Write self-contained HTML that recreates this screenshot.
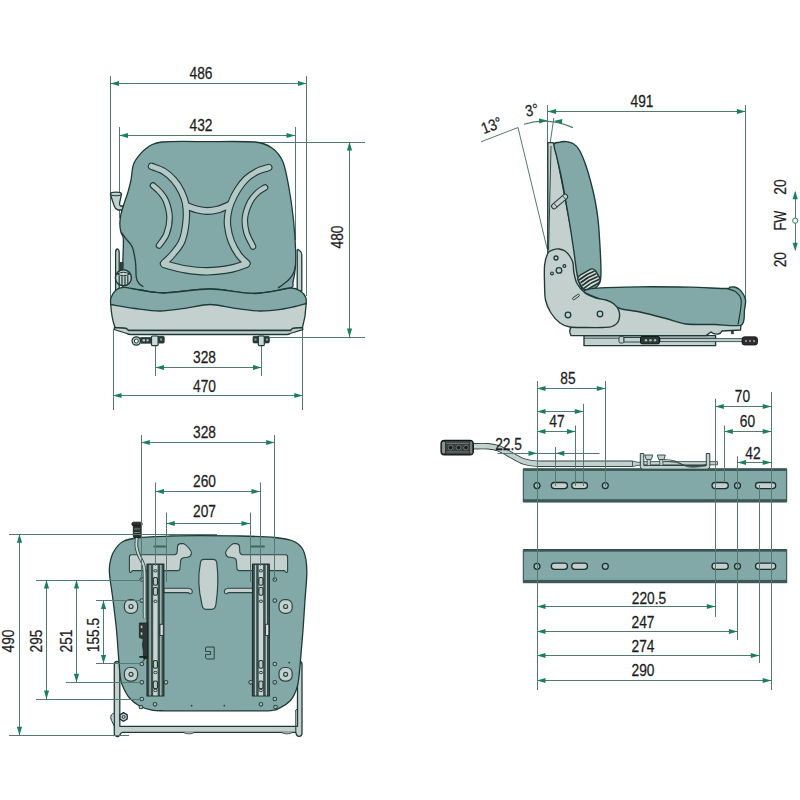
<!DOCTYPE html>
<html><head><meta charset="utf-8"><title>Seat dimensions</title>
<style>
html,body{margin:0;padding:0;background:#fff;}
body{width:800px;height:800px;overflow:hidden;font-family:"Liberation Sans",sans-serif;}
svg{display:block;font-family:"Liberation Sans",sans-serif;}
</style></head><body>
<svg width="800" height="800" viewBox="0 0 800 800" stroke-linejoin="round" stroke-linecap="butt">
<rect width="800" height="800" fill="#ffffff"/>
<line x1="110.5" y1="76" x2="110.5" y2="299" stroke="#54796e" stroke-width="1"/>
<line x1="306.5" y1="76" x2="306.5" y2="296" stroke="#54796e" stroke-width="1"/>
<line x1="119.5" y1="127" x2="119.5" y2="218" stroke="#54796e" stroke-width="1"/>
<line x1="295.5" y1="127" x2="295.5" y2="240" stroke="#54796e" stroke-width="1"/>
<line x1="250" y1="142.5" x2="365" y2="142.5" stroke="#54796e" stroke-width="1"/>
<line x1="269.5" y1="337.5" x2="365" y2="337.5" stroke="#54796e" stroke-width="1"/>
<line x1="113.5" y1="330" x2="113.5" y2="410" stroke="#54796e" stroke-width="1"/>
<line x1="302.5" y1="330" x2="302.5" y2="410" stroke="#54796e" stroke-width="1"/>
<line x1="155.5" y1="345" x2="155.5" y2="376" stroke="#54796e" stroke-width="1"/>
<line x1="261.5" y1="345" x2="261.5" y2="376" stroke="#54796e" stroke-width="1"/>
<path d="M115.6 291V252.5Q115.6 249 117.6 249Q119.2 249.5 119.2 253V291Z" fill="#c4d0ce" stroke="#1d3a36" stroke-width="1.3" />
<path d="M297.2 291V250.5Q297.4 248.8 299 250Q301.8 252 301.8 255V291Z" fill="#c4d0ce" stroke="#1d3a36" stroke-width="1.3" />
<path d="M110.4 194 Q110.6 192.2 116 192.2 Q121.4 192.2 121.5 194 L119.6 203 Q119.2 205 120.5 206 H123.5 V210 H118 Q115.5 209.5 114.5 206.5 Q112 200 110.4 194Z" fill="#c4d0ce" stroke="#1d3a36" stroke-width="1.3" />
<path d="M110.4 194 Q110.6 195.8 116 195.8 Q121.4 195.8 121.5 194" fill="none" stroke="#1d3a36" stroke-width="1" />
<path d="M162.00 142.00 C170.68 141.03 194.98 141.60 208.00 141.60 C221.02 141.60 246.04 141.10 255.00 142.00 C263.96 142.90 268.08 145.20 272.00 148.00 C275.92 150.80 280.62 156.40 283.00 162.00 C285.38 167.60 287.53 179.88 289.00 188.00 C290.47 196.12 292.58 211.32 293.50 220.00 C294.42 228.68 295.35 243.28 295.60 250.00 C295.85 256.72 295.66 263.52 295.30 268.00 C294.94 272.48 293.74 279.20 293.00 282.00 C292.26 284.80 295.32 286.39 290.00 288.00 C284.68 289.61 266.20 293.36 255.00 293.50 C243.80 293.64 222.74 289.07 210.00 289.00 C197.26 288.93 173.80 292.86 164.00 293.00 C154.20 293.14 145.71 290.70 140.00 290.00 C134.29 289.30 125.61 291.64 123.20 288.00 C120.79 284.36 122.77 270.86 122.80 264.00 C122.83 257.14 123.65 243.41 123.40 239.00 C123.15 234.59 121.50 234.67 121.00 232.50 C120.50 230.33 119.80 226.09 119.80 223.50 C119.80 220.91 120.44 216.66 121.00 214.00 C121.56 211.34 122.82 207.58 123.80 204.50 C124.78 201.42 126.99 195.43 128.00 192.00 C129.01 188.57 130.16 184.06 131.00 180.00 C131.84 175.94 131.90 167.41 134.00 163.00 C136.10 158.59 142.08 151.44 146.00 148.50 C149.92 145.56 153.32 142.97 162.00 142.00Z" fill="#82a9a7" stroke="#1d3a36" stroke-width="1.3" />
<path d="M121.30 232.50 C122.17 233.63 124.63 236.80 126.50 239.30 C128.37 241.80 131.00 243.63 132.50 247.50 C134.00 251.37 134.87 257.50 135.50 262.50 C136.13 267.50 135.72 274.00 136.30 277.50 C136.88 281.00 137.80 281.95 139.00 283.50 C140.20 285.05 142.75 286.25 143.50 286.80" fill="none" stroke="#1d3a36" stroke-width="1.3" />
<path d="M295.70 265.00 C295.33 266.33 294.62 270.58 293.50 273.00 C292.38 275.42 290.75 277.58 289.00 279.50 C287.25 281.42 284.83 283.08 283.00 284.50 C281.17 285.92 278.83 287.42 278.00 288.00" fill="none" stroke="#1d3a36" stroke-width="1.3" />
<path d="M151.50 166.30 C153.55 167.13 160.08 169.02 163.80 171.30 C167.52 173.58 170.88 176.67 173.80 180.00 C176.72 183.33 179.32 187.30 181.30 191.30 C183.28 195.30 184.92 198.88 185.70 204.00 C186.48 209.12 186.62 215.83 186.00 222.00 C185.38 228.17 184.17 235.67 182.00 241.00 C179.83 246.33 176.08 250.25 173.00 254.00 C169.92 257.75 165.08 261.92 163.50 263.50" fill="none" stroke="#1d3a36" stroke-width="7.4" stroke-linecap="round" stroke-linejoin="round"/>
<path d="M268.80 167.50 C266.92 168.13 261.25 169.42 257.50 171.30 C253.75 173.18 249.63 175.68 246.30 178.80 C242.97 181.92 240.05 185.97 237.50 190.00 C234.95 194.03 232.58 199.00 231.00 203.00 C229.42 207.00 228.57 210.17 228.00 214.00 C227.43 217.83 227.05 221.45 227.60 226.00 C228.15 230.55 229.43 236.47 231.30 241.30 C233.17 246.13 236.18 251.33 238.80 255.00 C241.42 258.67 245.63 261.92 247.00 263.30" fill="none" stroke="#1d3a36" stroke-width="7.4" stroke-linecap="round" stroke-linejoin="round"/>
<path d="M164.50 264.20 C167.92 265.05 177.83 268.12 185.00 269.30 C192.17 270.48 199.67 271.43 207.50 271.30 C215.33 271.17 225.58 269.72 232.00 268.50 C238.42 267.28 243.67 264.75 246.00 264.00" fill="none" stroke="#1d3a36" stroke-width="8.4" stroke-linecap="round" stroke-linejoin="round"/>
<path d="M186.50 206.00 C188.25 206.58 193.50 208.67 197.00 209.50 C200.50 210.33 204.00 211.00 207.50 211.00 C211.00 211.00 214.33 210.50 218.00 209.50 C221.67 208.50 227.58 205.75 229.50 205.00" fill="none" stroke="#1d3a36" stroke-width="7.8" stroke-linecap="round" stroke-linejoin="round"/>
<path d="M153.00 185.50 C154.17 186.58 157.83 189.42 160.00 192.00 C162.17 194.58 164.40 196.75 166.00 201.00 C167.60 205.25 169.52 212.00 169.60 217.50 C169.68 223.00 168.27 229.33 166.50 234.00 C164.73 238.67 160.25 243.58 159.00 245.50" fill="none" stroke="#1d3a36" stroke-width="6.6000000000000005" stroke-linecap="round" stroke-linejoin="round"/>
<path d="M265.00 187.50 C263.67 188.42 259.50 190.58 257.00 193.00 C254.50 195.42 252.00 197.92 250.00 202.00 C248.00 206.08 245.58 212.42 245.00 217.50 C244.42 222.58 245.17 227.67 246.50 232.50 C247.83 237.33 251.92 244.17 253.00 246.50" fill="none" stroke="#1d3a36" stroke-width="6.6000000000000005" stroke-linecap="round" stroke-linejoin="round"/>
<path d="M151.50 166.30 C153.55 167.13 160.08 169.02 163.80 171.30 C167.52 173.58 170.88 176.67 173.80 180.00 C176.72 183.33 179.32 187.30 181.30 191.30 C183.28 195.30 184.92 198.88 185.70 204.00 C186.48 209.12 186.62 215.83 186.00 222.00 C185.38 228.17 184.17 235.67 182.00 241.00 C179.83 246.33 176.08 250.25 173.00 254.00 C169.92 257.75 165.08 261.92 163.50 263.50" fill="none" stroke="#b7c9c6" stroke-width="5.2" stroke-linecap="round" stroke-linejoin="round"/>
<path d="M268.80 167.50 C266.92 168.13 261.25 169.42 257.50 171.30 C253.75 173.18 249.63 175.68 246.30 178.80 C242.97 181.92 240.05 185.97 237.50 190.00 C234.95 194.03 232.58 199.00 231.00 203.00 C229.42 207.00 228.57 210.17 228.00 214.00 C227.43 217.83 227.05 221.45 227.60 226.00 C228.15 230.55 229.43 236.47 231.30 241.30 C233.17 246.13 236.18 251.33 238.80 255.00 C241.42 258.67 245.63 261.92 247.00 263.30" fill="none" stroke="#b7c9c6" stroke-width="5.2" stroke-linecap="round" stroke-linejoin="round"/>
<path d="M164.50 264.20 C167.92 265.05 177.83 268.12 185.00 269.30 C192.17 270.48 199.67 271.43 207.50 271.30 C215.33 271.17 225.58 269.72 232.00 268.50 C238.42 267.28 243.67 264.75 246.00 264.00" fill="none" stroke="#b7c9c6" stroke-width="6.2" stroke-linecap="round" stroke-linejoin="round"/>
<path d="M186.50 206.00 C188.25 206.58 193.50 208.67 197.00 209.50 C200.50 210.33 204.00 211.00 207.50 211.00 C211.00 211.00 214.33 210.50 218.00 209.50 C221.67 208.50 227.58 205.75 229.50 205.00" fill="none" stroke="#b7c9c6" stroke-width="5.6" stroke-linecap="round" stroke-linejoin="round"/>
<path d="M153.00 185.50 C154.17 186.58 157.83 189.42 160.00 192.00 C162.17 194.58 164.40 196.75 166.00 201.00 C167.60 205.25 169.52 212.00 169.60 217.50 C169.68 223.00 168.27 229.33 166.50 234.00 C164.73 238.67 160.25 243.58 159.00 245.50" fill="none" stroke="#b7c9c6" stroke-width="4.4" stroke-linecap="round" stroke-linejoin="round"/>
<path d="M265.00 187.50 C263.67 188.42 259.50 190.58 257.00 193.00 C254.50 195.42 252.00 197.92 250.00 202.00 C248.00 206.08 245.58 212.42 245.00 217.50 C244.42 222.58 245.17 227.67 246.50 232.50 C247.83 237.33 251.92 244.17 253.00 246.50" fill="none" stroke="#b7c9c6" stroke-width="4.4" stroke-linecap="round" stroke-linejoin="round"/>
<rect x="120" y="262.5" width="3" height="9" rx="0" fill="#33423f" stroke="#1d3a36" stroke-width="0.8" />
<circle cx="123.4" cy="277.8" r="8" fill="#c4d0ce" stroke="#1d3a36" stroke-width="1.5"/>
<path d="M117.3 274 Q123.5 270.5 129.7 274 Q123.5 277.5 117.3 274Z" fill="#c4d0ce" stroke="#1d3a36" stroke-width="1" />
<line x1="119.2" y1="275.5" x2="119.2" y2="284" stroke="#1d3a36" stroke-width="1.2"/>
<line x1="122.0" y1="276.3" x2="122.0" y2="285.3" stroke="#1d3a36" stroke-width="1.2"/>
<line x1="125.0" y1="276.3" x2="125.0" y2="285.3" stroke="#1d3a36" stroke-width="1.2"/>
<line x1="127.8" y1="275.5" x2="127.8" y2="284" stroke="#1d3a36" stroke-width="1.2"/>
<path d="M110.7 304 Q111.5 318 115 327.5 L126 328.3 L128.5 330.5 L290.5 330.5 L292.8 328.3 L302.5 327.5 Q305.8 316 306.2 303 Z" fill="#c4d0ce" stroke="#1d3a36" stroke-width="1.3" />
<path d="M114.5 327.5 L114 329.5 L127 333.5 Q128 334.5 131 334.5 L287 334.5 Q289 334.5 290 333.5 L302.8 329.6 L302.5 327.5 L292.8 328.3 L290.5 330.5 L128.5 330.5 L126 328.3Z" fill="#c4d0ce" stroke="#1d3a36" stroke-width="1.3" />
<path d="M110.70 304.50 C114.75 305.17 126.78 307.42 135.00 308.50 C143.22 309.58 151.67 311.03 160.00 311.00 C168.33 310.97 176.67 309.38 185.00 308.30 C193.33 307.22 201.67 304.50 210.00 304.50 C218.33 304.50 226.67 307.22 235.00 308.30 C243.33 309.38 252.00 310.88 260.00 311.00 C268.00 311.12 277.17 309.75 283.00 309.00 C288.83 308.25 291.13 307.42 295.00 306.50 C298.87 305.58 304.33 304.00 306.20 303.50 C306.14 302.66 306.53 299.18 305.80 297.50 C305.07 295.82 303.14 292.83 301.00 291.50 C298.86 290.17 296.94 287.72 290.50 288.00 C284.06 288.28 266.27 293.36 255.00 293.50 C243.73 293.64 222.74 289.07 210.00 289.00 C197.26 288.93 173.80 292.86 164.00 293.00 C154.20 293.14 145.67 290.80 140.00 290.00 C134.33 289.20 126.86 287.30 123.50 287.30 C120.14 287.30 117.76 288.50 116.00 290.00 C114.24 291.50 111.64 295.97 110.90 298.00 C110.16 300.03 110.73 303.59 110.70 304.50Z" fill="#82a9a7" stroke="#1d3a36" stroke-width="1.3" />
<path d="M131.00 288.50 C134.17 289.05 144.17 291.05 150.00 291.80 C155.83 292.55 163.33 292.80 166.00 293.00" fill="none" stroke="#1d3a36" stroke-width="1" />
<path d="M290.00 288.00 C287.00 288.58 278.17 290.58 272.00 291.50 C265.83 292.42 256.17 293.17 253.00 293.50" fill="none" stroke="#1d3a36" stroke-width="1" />
<rect x="140" y="337.6" width="11.5" height="5.6" rx="1" fill="#2a3b38" stroke="#1d3a36" stroke-width="0.8" />
<rect x="142.5" y="339.3" width="2.5" height="2" rx="0" fill="#c4d0ce" stroke="none" stroke-width="0" />
<rect x="146.5" y="339.3" width="2" height="2" rx="0" fill="#c4d0ce" stroke="none" stroke-width="0" />
<rect x="158" y="336.3" width="6.2" height="6.8" rx="1" fill="#2a3b38" stroke="#1d3a36" stroke-width="0.8" />
<rect x="160" y="338.5" width="2" height="2" rx="0" fill="#8fa6a3" stroke="none" stroke-width="0" />
<rect x="151.5" y="336" width="6.6" height="9.6" rx="1" fill="#cfd9d7" stroke="#1d3a36" stroke-width="1.2" />
<circle cx="136.3" cy="341" r="4.2" fill="#c4d0ce" stroke="#1d3a36" stroke-width="1.3"/>
<circle cx="136.3" cy="341" r="2" fill="#fff" stroke="#1d3a36" stroke-width="1"/>
<rect x="253" y="336.3" width="16.3" height="6.6" rx="1" fill="#2a3b38" stroke="#1d3a36" stroke-width="0.8" />
<rect x="254.5" y="338.5" width="2" height="2" rx="0" fill="#8fa6a3" stroke="none" stroke-width="0" />
<rect x="266" y="338.5" width="2" height="2" rx="0" fill="#8fa6a3" stroke="none" stroke-width="0" />
<rect x="258.3" y="336" width="6" height="9.6" rx="1" fill="#cfd9d7" stroke="#1d3a36" stroke-width="1.2" />
<line x1="110.5" y1="83.5" x2="306.5" y2="83.5" stroke="#54796e" stroke-width="1"/>
<path d="M110.50 83.50L119.00 80.90L119.00 86.10Z" fill="#1a7f5e"/>
<path d="M306.50 83.50L298.00 86.10L298.00 80.90Z" fill="#1a7f5e"/>
<text transform="translate(201,79) rotate(0) scale(0.86,1)" text-anchor="middle" font-size="16" fill="#1c1c1c" stroke="#1c1c1c" stroke-width="0.25">486</text>
<line x1="119.5" y1="135.5" x2="295" y2="135.5" stroke="#54796e" stroke-width="1"/>
<path d="M119.50 135.50L128.00 132.90L128.00 138.10Z" fill="#1a7f5e"/>
<path d="M295.00 135.50L286.50 138.10L286.50 132.90Z" fill="#1a7f5e"/>
<text transform="translate(201,130.5) rotate(0) scale(0.86,1)" text-anchor="middle" font-size="16" fill="#1c1c1c" stroke="#1c1c1c" stroke-width="0.25">432</text>
<line x1="349.5" y1="142" x2="349.5" y2="337" stroke="#54796e" stroke-width="1"/>
<path d="M349.50 142.00L352.10 150.50L346.90 150.50Z" fill="#1a7f5e"/>
<path d="M349.50 337.00L346.90 328.50L352.10 328.50Z" fill="#1a7f5e"/>
<text transform="translate(343,237) rotate(-90) scale(0.86,1)" text-anchor="middle" font-size="16" fill="#1c1c1c" stroke="#1c1c1c" stroke-width="0.25">480</text>
<line x1="155.5" y1="367.5" x2="261.5" y2="367.5" stroke="#54796e" stroke-width="1"/>
<path d="M155.50 367.50L164.00 364.90L164.00 370.10Z" fill="#1a7f5e"/>
<path d="M261.50 367.50L253.00 370.10L253.00 364.90Z" fill="#1a7f5e"/>
<text transform="translate(204.5,362.5) rotate(0) scale(0.86,1)" text-anchor="middle" font-size="16" fill="#1c1c1c" stroke="#1c1c1c" stroke-width="0.25">328</text>
<line x1="113" y1="395.5" x2="302.8" y2="395.5" stroke="#54796e" stroke-width="1"/>
<path d="M113.00 395.50L121.50 392.90L121.50 398.10Z" fill="#1a7f5e"/>
<path d="M302.80 395.50L294.30 398.10L294.30 392.90Z" fill="#1a7f5e"/>
<text transform="translate(204.5,391.5) rotate(0) scale(0.86,1)" text-anchor="middle" font-size="16" fill="#1c1c1c" stroke="#1c1c1c" stroke-width="0.25">470</text>
<line x1="547.5" y1="105" x2="547.5" y2="249" stroke="#54796e" stroke-width="1"/>
<line x1="745.5" y1="105" x2="745.5" y2="300" stroke="#54796e" stroke-width="1"/>
<line x1="553.8" y1="118" x2="550.2" y2="143" stroke="#54796e" stroke-width="1"/>
<line x1="481" y1="141.8" x2="518" y2="127.5" stroke="#54796e" stroke-width="1"/>
<line x1="518" y1="127.5" x2="547.2" y2="249" stroke="#54796e" stroke-width="1"/>
<path d="M524 124.3 Q548 116.5 573 127.6" fill="none" stroke="#54796e" stroke-width="1.2" />
<path d="M547.60 120.60L539.23 123.62L538.97 118.42Z" fill="#1a7f5e"/>
<path d="M553.60 120.90L562.31 118.98L561.89 124.18Z" fill="#1a7f5e"/>
<rect x="584" y="335.6" width="131.6" height="10" rx="0" fill="#c4d0ce" stroke="#1d3a36" stroke-width="1.35" />
<line x1="584" y1="338.2" x2="715.6" y2="338.2" stroke="#1d3a36" stroke-width="0.8"/>
<path d="M571 327.5 Q568.5 331 571 335.6 L706 335.6 L711 332 Q714 334.5 718 334 Q721 333.5 722 331 L740.5 330 L741 325 L700 318 L619 306 L600 300 L575 320 Z" fill="#c4d0ce" stroke="#1d3a36" stroke-width="1.35" />
<rect x="731.2" y="330.5" width="2.4" height="3.5" rx="0" fill="#1d3a36" stroke="#1d3a36" stroke-width="0.3" />
<path d="M547.8 142.6 L553 142.6 L555 146 L575 250 L582 290 L548 290 L547.8 250 Z" fill="#c4d0ce" stroke="#1d3a36" stroke-width="1.35" />
<line x1="551" y1="146" x2="548.6" y2="250" stroke="#1d3a36" stroke-width="0.9"/>
<path d="M554.00 144.50 C554.33 141.88 557.00 142.78 559.00 142.30 C561.00 141.82 563.67 141.40 566.00 141.60 C568.33 141.80 570.83 142.18 573.00 143.50 C575.17 144.82 577.00 146.25 579.00 149.50 C581.00 152.75 583.08 157.75 585.00 163.00 C586.92 168.25 588.83 174.83 590.50 181.00 C592.17 187.17 593.72 193.33 595.00 200.00 C596.28 206.67 597.33 212.67 598.20 221.00 C599.07 229.33 599.73 241.50 600.20 250.00 C600.67 258.50 601.03 266.67 601.00 272.00 C600.97 277.33 600.83 279.42 600.00 282.00 C599.17 284.58 598.00 286.00 596.00 287.50 C594.00 289.00 590.50 291.08 588.00 291.00 C585.50 290.92 582.83 289.83 581.00 287.00 C579.17 284.17 578.03 278.83 577.00 274.00 C575.97 269.17 575.80 265.00 574.80 258.00 C573.80 251.00 572.38 240.83 571.00 232.00 C569.62 223.17 568.08 214.00 566.50 205.00 C564.92 196.00 563.08 185.83 561.50 178.00 C559.92 170.17 558.25 163.58 557.00 158.00 C555.75 152.42 553.67 147.12 554.00 144.50Z" fill="#82a9a7" stroke="#1d3a36" stroke-width="1.35" />
<g transform="translate(559.6,201.5) rotate(-41)"><rect x="-9.8" y="-2.5" width="19.6" height="5" rx="2.5" fill="#c4d0ce" stroke="#1d3a36" stroke-width="1"/><line x1="-5.5" y1="-2.5" x2="-5.5" y2="2.5" stroke="#1d3a36" stroke-width="0.8"/><line x1="6" y1="-2.5" x2="6" y2="2.5" stroke="#1d3a36" stroke-width="0.8"/></g>
<path d="M584.00 292.00 C582.67 290.31 586.53 288.99 594.00 288.30 C601.47 287.61 627.20 286.95 640.00 286.80 C652.80 286.65 678.53 286.97 690.00 287.20 C701.47 287.43 720.67 288.50 726.00 288.50 C731.33 288.50 728.87 287.40 730.00 287.20 C731.13 287.00 733.23 286.69 734.50 287.00 C735.77 287.31 738.30 288.50 739.50 289.50 C740.70 290.50 742.69 293.03 743.50 294.50 C744.31 295.97 745.47 298.43 745.60 300.50 C745.73 302.57 745.05 306.73 744.50 310.00 C743.95 313.27 745.43 323.07 741.50 325.00 C737.57 326.93 722.40 324.63 715.00 324.50 C707.60 324.37 692.53 324.80 686.00 324.00 C679.47 323.20 672.13 320.10 666.00 318.50 C659.87 316.90 646.13 313.33 640.00 312.00 C633.87 310.67 624.80 309.97 620.00 308.50 C615.20 307.03 608.80 303.20 604.00 301.00 C599.20 298.80 585.33 293.69 584.00 292.00Z" fill="#82a9a7" stroke="#1d3a36" stroke-width="1.35" />
<path d="M727.00 288.60 C728.50 289.17 733.67 290.27 736.00 292.00 C738.33 293.73 740.25 296.00 741.00 299.00 C741.75 302.00 741.00 305.75 740.50 310.00 C740.00 314.25 738.42 322.08 738.00 324.50" fill="none" stroke="#1d3a36" stroke-width="1.2" />
<g transform="translate(589,279.3) rotate(-30)"><rect x="-10" y="-8" width="20" height="16" rx="4.5" fill="#d3dcda" stroke="#1d3a36" stroke-width="1.5"/><path d="M-9 -4.4 Q0 -6.0 9 -4.4" fill="none" stroke="#22302e" stroke-width="1.7"/><path d="M-9 -1.2 Q0 -2.8 9 -1.2" fill="none" stroke="#22302e" stroke-width="1.7"/><path d="M-9 2.0 Q0 0.3999999999999999 9 2.0" fill="none" stroke="#22302e" stroke-width="1.7"/><path d="M-9 5.2 Q0 3.6 9 5.2" fill="none" stroke="#22302e" stroke-width="1.7"/></g>
<path d="M548.00 253.00 C549.26 250.72 551.35 250.40 553.00 249.80 C554.65 249.20 557.20 248.82 559.00 249.00 C560.80 249.18 563.35 249.88 565.00 251.00 C566.65 252.12 568.80 254.70 570.00 256.50 C571.20 258.30 572.43 260.68 573.00 263.00 C573.57 265.32 573.20 268.93 573.80 272.00 C574.40 275.07 575.32 280.35 577.00 283.50 C578.68 286.65 582.15 290.82 585.00 293.00 C587.85 295.18 592.85 296.95 596.00 298.00 C599.15 299.05 603.30 299.10 606.00 300.00 C608.70 300.90 612.05 302.35 614.00 304.00 C615.95 305.65 618.33 308.45 619.00 311.00 C619.67 313.55 619.55 318.68 618.50 321.00 C617.45 323.32 614.33 325.52 612.00 326.50 C609.67 327.48 607.05 327.35 603.00 327.50 C598.95 327.65 589.95 327.57 585.00 327.50 C580.05 327.43 573.75 327.68 570.00 327.00 C566.25 326.32 562.85 325.10 560.00 323.00 C557.15 320.90 553.17 316.45 551.00 313.00 C548.83 309.55 546.48 304.65 545.50 300.00 C544.52 295.35 544.63 287.25 544.50 282.00 C544.37 276.75 544.08 269.35 544.60 265.00 C545.12 260.65 546.74 255.28 548.00 253.00Z" fill="#c4d0ce" stroke="#1d3a36" stroke-width="1.35" />
<circle cx="556" cy="258" r="2" fill="#c4d0ce" stroke="#1d3a36" stroke-width="1.3"/>
<circle cx="559" cy="270.4" r="2.8" fill="#c4d0ce" stroke="#1d3a36" stroke-width="1.3"/>
<circle cx="564.4" cy="266" r="1.4" fill="#c4d0ce" stroke="#1d3a36" stroke-width="1.2"/>
<circle cx="552" cy="273.4" r="1.4" fill="#c4d0ce" stroke="#1d3a36" stroke-width="1.2"/>
<circle cx="568" cy="315" r="2.8" fill="#c4d0ce" stroke="#1d3a36" stroke-width="1.3"/>
<circle cx="600" cy="314" r="2.8" fill="#c4d0ce" stroke="#1d3a36" stroke-width="1.3"/>
<rect x="-4" y="-1.1" width="8" height="2.2" rx="1.1" transform="translate(576,297) rotate(-35)" fill="#c4d0ce" stroke="#1d3a36" stroke-width="0.9"/>
<rect x="660" y="338.6" width="83" height="3" rx="0" fill="#c4d0ce" stroke="#1d3a36" stroke-width="0.8" />
<rect x="619" y="336.5" width="5" height="6.5" rx="1.5" fill="#c4d0ce" stroke="#1d3a36" stroke-width="0.9" />
<rect x="624" y="337.5" width="20" height="4.5" rx="0" fill="#c4d0ce" stroke="#1d3a36" stroke-width="0.9" />
<rect x="640.5" y="336.6" width="19" height="7.2" rx="1.5" fill="#2c3837" stroke="#141716" stroke-width="1" />
<circle cx="646" cy="340.2" r="1.3" fill="#a9b8b5" stroke="none" stroke-width="0"/>
<circle cx="650.5" cy="340.2" r="1.3" fill="#a9b8b5" stroke="none" stroke-width="0"/>
<circle cx="655" cy="340.2" r="1.3" fill="#a9b8b5" stroke="none" stroke-width="0"/>
<rect x="742" y="336.8" width="15.5" height="8.2" rx="2.5" fill="#2a2f2e" stroke="#111" stroke-width="0.8" />
<circle cx="746" cy="341" r="1" fill="#9aa" stroke="none" stroke-width="0"/>
<circle cx="750" cy="341" r="1" fill="#9aa" stroke="none" stroke-width="0"/>
<circle cx="754" cy="341" r="1" fill="#9aa" stroke="none" stroke-width="0"/>
<line x1="547.6" y1="111.5" x2="745.5" y2="111.5" stroke="#54796e" stroke-width="1"/>
<path d="M547.60 111.50L556.10 108.90L556.10 114.10Z" fill="#1a7f5e"/>
<path d="M745.50 111.50L737.00 114.10L737.00 108.90Z" fill="#1a7f5e"/>
<text transform="translate(642,106.5) rotate(0) scale(0.86,1)" text-anchor="middle" font-size="16" fill="#1c1c1c" stroke="#1c1c1c" stroke-width="0.25">491</text>
<text transform="translate(533,115.5) rotate(-12) scale(0.86,1)" text-anchor="middle" font-size="16" fill="#1c1c1c" stroke="#1c1c1c" stroke-width="0.25">3°</text>
<text transform="translate(493.5,130.5) rotate(-21) scale(0.86,1)" text-anchor="middle" font-size="16" fill="#1c1c1c" stroke="#1c1c1c" stroke-width="0.25">13°</text>
<text transform="translate(786,187) rotate(-90) scale(0.86,1)" text-anchor="middle" font-size="16" fill="#1c1c1c" stroke="#1c1c1c" stroke-width="0.25">20</text>
<text transform="translate(786,220.6) rotate(-90) scale(0.8,1)" text-anchor="middle" font-size="16" fill="#1c1c1c" stroke="#1c1c1c" stroke-width="0.25">FW</text>
<text transform="translate(786,259.7) rotate(-90) scale(0.86,1)" text-anchor="middle" font-size="16" fill="#1c1c1c" stroke="#1c1c1c" stroke-width="0.25">20</text>
<line x1="795.5" y1="192" x2="795.5" y2="250" stroke="#54796e" stroke-width="1"/>
<path d="M795.20 190.70L797.80 199.20L792.60 199.20Z" fill="#1a7f5e"/>
<path d="M795.20 251.20L792.60 242.70L797.80 242.70Z" fill="#1a7f5e"/>
<circle cx="795.2" cy="220.7" r="2.6" fill="#fff" stroke="#1a7f5e" stroke-width="1"/>
<path d="M114.3 734.5 V664.5 Q114.3 661.5 117 661.5 Q119.8 661.5 119.8 664.5 V726.3 H297.5 V664.5 Q297.5 661.5 299.8 661.5 Q302 661.5 302 664.5 V733 Q302 736.3 299 736.3 Q296.5 736.3 295.8 732.3 H122.5 Q120.8 732.5 119.8 735 Q117 738.5 114.3 734.5Z" fill="#c4d0ce" stroke="#1d3a36" stroke-width="1.3" />
<path d="M183 732.3 q6 3.2 12 0 M281 732.3 q6 3.2 12 0" fill="#c4d0ce" stroke="#1d3a36" stroke-width="0.8" />
<path d="M295.8 732.3 V710 L297.5 709" fill="none" stroke="#1d3a36" stroke-width="1" />
<path d="M200.00 535.60 C209.80 535.60 229.50 535.73 240.00 536.00 C250.50 536.27 267.58 536.80 275.00 537.50 C282.42 538.20 289.22 539.53 293.00 541.00 C296.78 542.47 300.18 545.34 302.00 548.00 C303.82 550.66 305.33 556.22 306.00 560.00 C306.67 563.78 306.94 569.40 306.80 575.00 C306.66 580.60 305.53 592.30 305.00 600.00 C304.47 607.70 303.63 621.60 303.00 630.00 C302.37 638.40 301.12 653.07 300.50 660.00 C299.88 666.93 299.17 675.37 298.60 679.50 C298.03 683.63 297.53 686.56 296.40 689.50 C295.27 692.44 292.94 697.85 290.50 700.50 C288.06 703.15 282.22 706.96 279.00 708.40 C275.78 709.84 277.16 710.46 267.50 710.80 C257.84 711.14 224.35 710.80 210.00 710.80 C195.65 710.80 173.12 710.88 165.00 710.80 C156.88 710.72 155.57 710.87 152.00 710.20 C148.43 709.53 142.65 707.71 139.50 706.00 C136.35 704.29 131.67 700.38 129.50 698.00 C127.33 695.62 125.25 691.59 124.00 689.00 C122.75 686.41 121.33 683.56 120.60 679.50 C119.87 675.44 119.37 666.93 118.80 660.00 C118.23 653.07 117.31 638.40 116.50 630.00 C115.69 621.60 113.97 607.70 113.00 600.00 C112.03 592.30 110.05 580.04 109.60 575.00 C109.15 569.96 109.25 567.22 109.80 564.00 C110.35 560.78 111.65 555.15 113.50 552.00 C115.35 548.85 119.29 543.53 123.00 541.50 C126.71 539.47 133.42 538.27 140.00 537.50 C146.58 536.73 161.60 536.27 170.00 536.00 C178.40 535.73 190.20 535.60 200.00 535.60Z" fill="#82a9a7" stroke="#1d3a36" stroke-width="1.3" />
<path d="M129.4 557 Q129.4 554.75 131.5 554.75 H174.5 Q177 554.6 177.2 552 L177.5 546.5 Q177.8 544 180.5 543.6 L183.5 543.5 Q186 544.5 189.4 548.75 Q192 552 191.3 554 Q190.5 557 187.5 557.3 L183.5 557.75 Q180.8 558.2 180.6 561 L180 568.5 Q179.8 570.6 177.6 570.6 H133 Q131.8 570.8 131.4 572 Q130.8 573 129.8 572 Q129.4 571.5 129.4 570Z" fill="#c4d0ce" stroke="#2b4541" stroke-width="1.1" />
<g transform="translate(417,0) scale(-1,1)"><path d="M129.4 557 Q129.4 554.75 131.5 554.75 H174.5 Q177 554.6 177.2 552 L177.5 546.5 Q177.8 544 180.5 543.6 L183.5 543.5 Q186 544.5 189.4 548.75 Q192 552 191.3 554 Q190.5 557 187.5 557.3 L183.5 557.75 Q180.8 558.2 180.6 561 L180 568.5 Q179.8 570.6 177.6 570.6 H133 Q131.8 570.8 131.4 572 Q130.8 573 129.8 572 Q129.4 571.5 129.4 570Z" fill="#c4d0ce" stroke="#2b4541" stroke-width="1.1"/></g>
<path d="M200.4 563 Q200.8 559.3 204 559.3 H213 Q216.4 559.3 216.8 563 Q219.2 582 216 604 Q215.3 609.4 211.5 609.4 H206 Q202.6 609.4 201.8 604 Q196.6 582 200.4 563Z" fill="#c4d0ce" stroke="#2b4541" stroke-width="1.2" />
<path d="M163.8 588.2 H188 Q192.3 588.6 192.3 591.6 Q192 594.2 189.5 593.6 Q189 592.6 187.5 592.6 H163.8Z" fill="#c4d0ce" stroke="#2b4541" stroke-width="1.1" />
<path d="M252.8 588.2 H228.6 Q224.3 588.6 224.3 591.6 Q224.6 594.2 227.1 593.6 Q227.6 592.6 229.1 592.6 H252.8Z" fill="#c4d0ce" stroke="#2b4541" stroke-width="1.1" />
<rect x="153.3" y="545.5" width="13" height="2.1" rx="1" fill="#3d6460" stroke="none" stroke-width="0" />
<rect x="250.7" y="545.5" width="14.3" height="2.1" rx="1" fill="#3d6460" stroke="none" stroke-width="0" />
<path d="M206.5 647 H214.2 V659 H207.5 Q205.5 659 205.5 657 V654.5 H210.5 V651.5 H205.5 V648 Q205.5 647 206.5 647Z" fill="#82a9a7" stroke="#2b4541" stroke-width="1" />
<rect x="147" y="564.2" width="16.8" height="131.8" rx="0" fill="#3a524f" stroke="#1e302d" stroke-width="1.2" />
<rect x="149.4" y="565" width="1.3" height="130.5" rx="0" fill="#b5c4c1" stroke="none" stroke-width="0" />
<rect x="160.2" y="565" width="1.3" height="130.5" rx="0" fill="#b5c4c1" stroke="none" stroke-width="0" />
<rect x="153.2" y="565" width="4.4" height="130.5" rx="0" fill="#c9d5d3" stroke="none" stroke-width="0" />
<rect x="153.3" y="577.5" width="4.2" height="7.8" rx="1.8" fill="#b9c9c6" stroke="#1e302d" stroke-width="1.1" />
<rect x="153.3" y="587.5" width="4.2" height="7.8" rx="1.8" fill="#b9c9c6" stroke="#1e302d" stroke-width="1.1" />
<rect x="153.3" y="660.5" width="4.2" height="7.8" rx="1.8" fill="#b9c9c6" stroke="#1e302d" stroke-width="1.1" />
<rect x="153.3" y="681" width="4.2" height="7.8" rx="1.8" fill="#b9c9c6" stroke="#1e302d" stroke-width="1.1" />
<ellipse cx="155.4" cy="570.8" rx="1.7" ry="1.2" fill="#c9d5d3" stroke="#1e302d" stroke-width="0.9"/>
<ellipse cx="155.4" cy="601.3" rx="1.7" ry="1.2" fill="#c9d5d3" stroke="#1e302d" stroke-width="0.9"/>
<ellipse cx="155.4" cy="672.5" rx="1.7" ry="1.2" fill="#c9d5d3" stroke="#1e302d" stroke-width="0.9"/>
<ellipse cx="155.4" cy="690.5" rx="1.7" ry="1.2" fill="#c9d5d3" stroke="#1e302d" stroke-width="0.9"/>
<rect x="252.5" y="564.2" width="16.8" height="131.8" rx="0" fill="#3a524f" stroke="#1e302d" stroke-width="1.2" />
<rect x="254.9" y="565" width="1.3" height="130.5" rx="0" fill="#b5c4c1" stroke="none" stroke-width="0" />
<rect x="265.7" y="565" width="1.3" height="130.5" rx="0" fill="#b5c4c1" stroke="none" stroke-width="0" />
<rect x="258.7" y="565" width="4.4" height="130.5" rx="0" fill="#c9d5d3" stroke="none" stroke-width="0" />
<rect x="258.8" y="577.5" width="4.2" height="7.8" rx="1.8" fill="#b9c9c6" stroke="#1e302d" stroke-width="1.1" />
<rect x="258.8" y="587.5" width="4.2" height="7.8" rx="1.8" fill="#b9c9c6" stroke="#1e302d" stroke-width="1.1" />
<rect x="258.8" y="660.5" width="4.2" height="7.8" rx="1.8" fill="#b9c9c6" stroke="#1e302d" stroke-width="1.1" />
<rect x="258.8" y="681" width="4.2" height="7.8" rx="1.8" fill="#b9c9c6" stroke="#1e302d" stroke-width="1.1" />
<ellipse cx="260.9" cy="570.8" rx="1.7" ry="1.2" fill="#c9d5d3" stroke="#1e302d" stroke-width="0.9"/>
<ellipse cx="260.9" cy="601.3" rx="1.7" ry="1.2" fill="#c9d5d3" stroke="#1e302d" stroke-width="0.9"/>
<ellipse cx="260.9" cy="672.5" rx="1.7" ry="1.2" fill="#c9d5d3" stroke="#1e302d" stroke-width="0.9"/>
<ellipse cx="260.9" cy="690.5" rx="1.7" ry="1.2" fill="#c9d5d3" stroke="#1e302d" stroke-width="0.9"/>
<rect x="160" y="624.3" width="3.3" height="11.2" rx="0" fill="#d6dfdd" stroke="#18211f" stroke-width="0.8" />
<rect x="265.5" y="624.3" width="3.3" height="11.2" rx="0" fill="#d6dfdd" stroke="#18211f" stroke-width="0.8" />
<rect x="124.4" y="599.7" width="13.2" height="13.6" rx="5.5" fill="#c4d0ce" stroke="#2b4541" stroke-width="1.2" />
<circle cx="131" cy="606.5" r="2" fill="#c4d0ce" stroke="#2b4541" stroke-width="1.2"/>
<rect x="124.4" y="667.5" width="13.2" height="13.6" rx="5.5" fill="#c4d0ce" stroke="#2b4541" stroke-width="1.2" />
<circle cx="131" cy="674.3" r="2" fill="#c4d0ce" stroke="#2b4541" stroke-width="1.2"/>
<rect x="279.0" y="599.7" width="13.2" height="13.6" rx="5.5" fill="#c4d0ce" stroke="#2b4541" stroke-width="1.2" />
<circle cx="285.6" cy="606.5" r="2" fill="#c4d0ce" stroke="#2b4541" stroke-width="1.2"/>
<rect x="279.0" y="667.5" width="13.2" height="13.6" rx="5.5" fill="#c4d0ce" stroke="#2b4541" stroke-width="1.2" />
<circle cx="285.6" cy="674.3" r="2" fill="#c4d0ce" stroke="#2b4541" stroke-width="1.2"/>
<circle cx="141.8" cy="579.5" r="1.8" fill="#a9c3c1" stroke="#2b4541" stroke-width="1.1"/>
<circle cx="141.8" cy="600.6" r="1.8" fill="#a9c3c1" stroke="#2b4541" stroke-width="1.1"/>
<circle cx="141.8" cy="664" r="1.8" fill="#a9c3c1" stroke="#2b4541" stroke-width="1.1"/>
<circle cx="141.8" cy="682.3" r="1.8" fill="#a9c3c1" stroke="#2b4541" stroke-width="1.1"/>
<circle cx="141.8" cy="699" r="1.8" fill="#a9c3c1" stroke="#2b4541" stroke-width="1.1"/>
<circle cx="155" cy="704.3" r="1.8" fill="#a9c3c1" stroke="#2b4541" stroke-width="1.1"/>
<circle cx="166" cy="682.3" r="1.8" fill="#a9c3c1" stroke="#2b4541" stroke-width="1.1"/>
<circle cx="250.7" cy="682.3" r="1.8" fill="#a9c3c1" stroke="#2b4541" stroke-width="1.1"/>
<circle cx="260.9" cy="704.3" r="1.8" fill="#a9c3c1" stroke="#2b4541" stroke-width="1.1"/>
<circle cx="274.8" cy="699" r="1.8" fill="#a9c3c1" stroke="#2b4541" stroke-width="1.1"/>
<circle cx="274.8" cy="682.3" r="1.8" fill="#a9c3c1" stroke="#2b4541" stroke-width="1.1"/>
<circle cx="274.8" cy="664" r="1.8" fill="#a9c3c1" stroke="#2b4541" stroke-width="1.1"/>
<circle cx="274.8" cy="600.6" r="1.8" fill="#a9c3c1" stroke="#2b4541" stroke-width="1.1"/>
<circle cx="274.8" cy="579.5" r="1.8" fill="#a9c3c1" stroke="#2b4541" stroke-width="1.1"/>
<circle cx="141" cy="707" r="1.8" fill="#a9c3c1" stroke="#2b4541" stroke-width="1.1"/>
<circle cx="275.5" cy="707" r="1.8" fill="#a9c3c1" stroke="#2b4541" stroke-width="1.1"/>
<circle cx="191.6" cy="705.7" r="0.9" fill="#2b4541" stroke="none" stroke-width="0"/>
<circle cx="224.3" cy="705.7" r="0.9" fill="#2b4541" stroke="none" stroke-width="0"/>
<circle cx="289.2" cy="662.7" r="0.9" fill="#2b4541" stroke="none" stroke-width="0"/>
<path d="M136.90 536.00 C136.82 537.72 136.08 543.13 136.40 546.30 C136.72 549.47 137.70 552.08 138.80 555.00 C139.90 557.92 142.05 560.97 143.00 563.80 C143.95 566.63 144.23 565.97 144.50 572.00 C144.77 578.03 144.58 592.25 144.60 600.00 C144.62 607.75 144.60 615.42 144.60 618.50" fill="none" stroke="#2b4541" stroke-width="3.6" />
<path d="M136.90 536.00 C136.82 537.72 136.08 543.13 136.40 546.30 C136.72 549.47 137.70 552.08 138.80 555.00 C139.90 557.92 142.05 560.97 143.00 563.80 C143.95 566.63 144.23 565.97 144.50 572.00 C144.77 578.03 144.58 592.25 144.60 600.00 C144.62 607.75 144.60 615.42 144.60 618.50" fill="none" stroke="#c9d6d3" stroke-width="1.9" />
<rect x="133.3" y="523.5" width="7.4" height="14" rx="1.5" fill="#2c302f" stroke="#111" stroke-width="0.8" />
<rect x="131.8" y="522.2" width="10.4" height="3.6" rx="1.8" fill="#2c302f" stroke="#111" stroke-width="0.8" />
<line x1="134" y1="529" x2="140" y2="529" stroke="#8a9" stroke-width="0.7"/>
<line x1="134" y1="532.5" x2="140" y2="532.5" stroke="#8a9" stroke-width="0.7"/>
<path d="M139.4 623 H147.5 V658.5 H143.4 V651.5 Q141.8 645 143.2 638.8 L139.4 637.6Z" fill="#2c3937" stroke="#18211f" stroke-width="0.8" />
<rect x="140.3" y="625.3" width="2.5" height="3.1" rx="0.6" fill="#c9d5d3" stroke="#18211f" stroke-width="0.7" />
<rect x="140.3" y="632.1" width="2.5" height="3.1" rx="0.6" fill="#c9d5d3" stroke="#18211f" stroke-width="0.7" />
<rect x="139.3" y="656" width="7.6" height="1.7" rx="0" fill="#18211f" stroke="none" stroke-width="0" />
<path d="M144.6 657.5 Q144.8 661 142.5 661.5" fill="none" stroke="#18211f" stroke-width="1" />
<path d="M111.3 715 Q110 717.5 111.5 720.5 L114.3 726 V713.5 Q112.5 713.3 111.3 715Z" fill="#c4d0ce" stroke="#1d3a36" stroke-width="1" />
<path d="M120 714.8 L123.5 712.6 L127.2 714.8 V719 L123.5 721.3 L120 719Z" fill="#c4d0ce" stroke="#1b2b29" stroke-width="1.3" />
<circle cx="123.6" cy="716.9" r="1.5" fill="#c4d0ce" stroke="#1b2b29" stroke-width="0.9"/>
<line x1="141.5" y1="435" x2="141.5" y2="580" stroke="#54796e" stroke-width="1"/>
<line x1="274.5" y1="435" x2="274.5" y2="580" stroke="#54796e" stroke-width="1"/>
<line x1="155.5" y1="482.5" x2="155.5" y2="566" stroke="#54796e" stroke-width="1"/>
<line x1="260.5" y1="482.5" x2="260.5" y2="566" stroke="#54796e" stroke-width="1"/>
<line x1="166.5" y1="512.5" x2="166.5" y2="582" stroke="#54796e" stroke-width="1"/>
<line x1="250.5" y1="512.5" x2="250.5" y2="582" stroke="#54796e" stroke-width="1"/>
<line x1="9" y1="534.5" x2="217" y2="534.5" stroke="#54796e" stroke-width="1"/>
<line x1="9" y1="735.5" x2="129" y2="735.5" stroke="#54796e" stroke-width="1"/>
<line x1="36" y1="580.5" x2="141" y2="580.5" stroke="#54796e" stroke-width="1"/>
<line x1="36" y1="699.5" x2="141" y2="699.5" stroke="#54796e" stroke-width="1"/>
<line x1="66" y1="682.5" x2="141" y2="682.5" stroke="#54796e" stroke-width="1"/>
<line x1="96" y1="600.5" x2="141" y2="600.5" stroke="#54796e" stroke-width="1"/>
<line x1="96" y1="663.5" x2="141" y2="663.5" stroke="#54796e" stroke-width="1"/>
<line x1="141.3" y1="442.5" x2="274.6" y2="442.5" stroke="#54796e" stroke-width="1"/>
<path d="M141.30 442.50L149.80 439.90L149.80 445.10Z" fill="#1a7f5e"/>
<path d="M274.60 442.50L266.10 445.10L266.10 439.90Z" fill="#1a7f5e"/>
<text transform="translate(204.5,438) rotate(0) scale(0.86,1)" text-anchor="middle" font-size="16" fill="#1c1c1c" stroke="#1c1c1c" stroke-width="0.25">328</text>
<line x1="155.5" y1="491.5" x2="260" y2="491.5" stroke="#54796e" stroke-width="1"/>
<path d="M155.50 491.50L164.00 488.90L164.00 494.10Z" fill="#1a7f5e"/>
<path d="M260.00 491.50L251.50 494.10L251.50 488.90Z" fill="#1a7f5e"/>
<text transform="translate(204.5,487) rotate(0) scale(0.86,1)" text-anchor="middle" font-size="16" fill="#1c1c1c" stroke="#1c1c1c" stroke-width="0.25">260</text>
<line x1="166.3" y1="523.5" x2="250" y2="523.5" stroke="#54796e" stroke-width="1"/>
<path d="M166.30 523.50L174.80 520.90L174.80 526.10Z" fill="#1a7f5e"/>
<path d="M250.00 523.50L241.50 526.10L241.50 520.90Z" fill="#1a7f5e"/>
<text transform="translate(204.5,516.5) rotate(0) scale(0.86,1)" text-anchor="middle" font-size="16" fill="#1c1c1c" stroke="#1c1c1c" stroke-width="0.25">207</text>
<line x1="19.5" y1="534.3" x2="19.5" y2="735.2" stroke="#54796e" stroke-width="1"/>
<path d="M19.50 534.30L22.10 542.80L16.90 542.80Z" fill="#1a7f5e"/>
<path d="M19.50 735.20L16.90 726.70L22.10 726.70Z" fill="#1a7f5e"/>
<text transform="translate(14,641) rotate(-90) scale(0.86,1)" text-anchor="middle" font-size="16" fill="#1c1c1c" stroke="#1c1c1c" stroke-width="0.25">490</text>
<line x1="46.5" y1="580" x2="46.5" y2="699" stroke="#54796e" stroke-width="1"/>
<path d="M46.50 580.00L49.10 588.50L43.90 588.50Z" fill="#1a7f5e"/>
<path d="M46.50 699.00L43.90 690.50L49.10 690.50Z" fill="#1a7f5e"/>
<text transform="translate(42.3,641) rotate(-90) scale(0.86,1)" text-anchor="middle" font-size="16" fill="#1c1c1c" stroke="#1c1c1c" stroke-width="0.25">295</text>
<line x1="76.5" y1="580" x2="76.5" y2="682.3" stroke="#54796e" stroke-width="1"/>
<path d="M76.50 580.00L79.10 588.50L73.90 588.50Z" fill="#1a7f5e"/>
<path d="M76.50 682.30L73.90 673.80L79.10 673.80Z" fill="#1a7f5e"/>
<text transform="translate(72.3,641) rotate(-90) scale(0.86,1)" text-anchor="middle" font-size="16" fill="#1c1c1c" stroke="#1c1c1c" stroke-width="0.25">251</text>
<line x1="103.5" y1="600.5" x2="103.5" y2="663.6" stroke="#54796e" stroke-width="1"/>
<path d="M103.50 600.50L106.10 609.00L100.90 609.00Z" fill="#1a7f5e"/>
<path d="M103.50 663.60L100.90 655.10L106.10 655.10Z" fill="#1a7f5e"/>
<text transform="translate(98.8,635) rotate(-90) scale(0.86,1)" text-anchor="middle" font-size="16" fill="#1c1c1c" stroke="#1c1c1c" stroke-width="0.25">155.5</text>
<rect x="523.3" y="468.8" width="263.4" height="33.2" rx="0" fill="#82a9a7" stroke="#2b4541" stroke-width="1" />
<rect x="523.3" y="468.8" width="263.4" height="2.2" rx="0" fill="#3c5956" stroke="none" stroke-width="0" />
<rect x="523.3" y="499.2" width="263.4" height="2.8" rx="0" fill="#3c5956" stroke="none" stroke-width="0" />
<circle cx="537" cy="485.6" r="3" fill="#9dbab8" stroke="#1e302d" stroke-width="1.3"/>
<circle cx="605.3" cy="485.6" r="3" fill="#9dbab8" stroke="#1e302d" stroke-width="1.3"/>
<circle cx="737.5" cy="485.6" r="3" fill="#9dbab8" stroke="#1e302d" stroke-width="1.3"/>
<rect x="551.3" y="482.5" width="16.200000000000045" height="6.2" rx="3.1" fill="#c4d0ce" stroke="#1e302d" stroke-width="1.3" />
<rect x="571.7" y="482.5" width="15.799999999999955" height="6.2" rx="3.1" fill="#c4d0ce" stroke="#1e302d" stroke-width="1.3" />
<rect x="712" y="482.5" width="16.299999999999955" height="6.2" rx="3.1" fill="#c4d0ce" stroke="#1e302d" stroke-width="1.3" />
<rect x="755.5" y="482.5" width="20.200000000000045" height="6.2" rx="3.1" fill="#c4d0ce" stroke="#1e302d" stroke-width="1.3" />
<rect x="523.3" y="549.5" width="263.4" height="33.2" rx="0" fill="#82a9a7" stroke="#2b4541" stroke-width="1" />
<rect x="523.3" y="549.5" width="263.4" height="2.2" rx="0" fill="#3c5956" stroke="none" stroke-width="0" />
<rect x="523.3" y="579.9" width="263.4" height="2.8" rx="0" fill="#3c5956" stroke="none" stroke-width="0" />
<circle cx="537" cy="566.3" r="3" fill="#9dbab8" stroke="#1e302d" stroke-width="1.3"/>
<circle cx="605.3" cy="566.3" r="3" fill="#9dbab8" stroke="#1e302d" stroke-width="1.3"/>
<circle cx="737.5" cy="566.3" r="3" fill="#9dbab8" stroke="#1e302d" stroke-width="1.3"/>
<rect x="551.3" y="563.1999999999999" width="16.200000000000045" height="6.2" rx="3.1" fill="#c4d0ce" stroke="#1e302d" stroke-width="1.3" />
<rect x="571.7" y="563.1999999999999" width="15.799999999999955" height="6.2" rx="3.1" fill="#c4d0ce" stroke="#1e302d" stroke-width="1.3" />
<rect x="712" y="563.1999999999999" width="16.299999999999955" height="6.2" rx="3.1" fill="#c4d0ce" stroke="#1e302d" stroke-width="1.3" />
<rect x="755.5" y="563.1999999999999" width="20.200000000000045" height="6.2" rx="3.1" fill="#c4d0ce" stroke="#1e302d" stroke-width="1.3" />
<path d="M473.00 446.30 C475.50 446.30 483.67 445.93 488.00 446.30 C492.33 446.67 495.00 446.97 499.00 448.50 C503.00 450.03 507.83 453.33 512.00 455.50 C516.17 457.67 520.00 460.15 524.00 461.50 C528.00 462.85 530.00 463.22 536.00 463.60 C542.00 463.98 543.92 463.77 560.00 463.80 C576.08 463.83 620.42 463.80 632.50 463.80" fill="none" stroke="#2b4541" stroke-width="6.4" />
<path d="M473.00 446.30 C475.50 446.30 483.67 445.93 488.00 446.30 C492.33 446.67 495.00 446.97 499.00 448.50 C503.00 450.03 507.83 453.33 512.00 455.50 C516.17 457.67 520.00 460.15 524.00 461.50 C528.00 462.85 530.00 463.22 536.00 463.60 C542.00 463.98 543.92 463.77 560.00 463.80 C576.08 463.83 620.42 463.80 632.50 463.80" fill="none" stroke="#c3d0ce" stroke-width="4.6" />
<path d="M632.5 461 L638 462.3 L640.5 462.3 V465.3 L638 465.3 L632.5 466.6Z" fill="#c4d0ce" stroke="#2b4541" stroke-width="0.8" />
<rect x="441" y="440.3" width="32.3" height="14.6" rx="3.5" fill="#3b4140" stroke="#141716" stroke-width="1.2" />
<rect x="441.6" y="441.2" width="4" height="12.8" rx="2" fill="#8b9593" stroke="#141716" stroke-width="0.7" />
<rect x="469.3" y="441" width="3.4" height="13.2" rx="1.5" fill="#767f7d" stroke="#141716" stroke-width="0.7" />
<line x1="446.5" y1="443.3" x2="469" y2="443.3" stroke="#7b8583" stroke-width="0.9"/>
<line x1="446.5" y1="452" x2="469" y2="452" stroke="#7b8583" stroke-width="0.9"/>
<circle cx="450.6" cy="447.6" r="2.3" fill="#1a1d1c" stroke="#7b8583" stroke-width="0.8"/>
<circle cx="458.6" cy="447.6" r="2.3" fill="#1a1d1c" stroke="#7b8583" stroke-width="0.8"/>
<circle cx="466" cy="447.6" r="2.3" fill="#1a1d1c" stroke="#7b8583" stroke-width="0.8"/>
<rect x="640.5" y="461.6" width="77" height="3.2" rx="0" fill="#c4d0ce" stroke="#2b4541" stroke-width="0.8" />
<path d="M640.3 453.5 H643.8 V465.5 H706.3 V453.5 H709.8 V466.5 Q709.8 469.2 707 469.2 H643 Q640.3 469.2 640.3 466.5Z" fill="#c4d0ce" stroke="#2b4541" stroke-width="1" />
<path d="M644.8 455 H652.8 L651.4 459.5 H646.1999999999999Z" fill="#c4d0ce" stroke="#2b4541" stroke-width="0.9" />
<rect x="647.1999999999999" y="459.5" width="3.2" height="6" rx="0" fill="#c4d0ce" stroke="#2b4541" stroke-width="0.8" />
<path d="M657.3 455 H665.3 L663.9 459.5 H658.6999999999999Z" fill="#c4d0ce" stroke="#2b4541" stroke-width="0.9" />
<rect x="659.6999999999999" y="459.5" width="3.2" height="6" rx="0" fill="#c4d0ce" stroke="#2b4541" stroke-width="0.8" />
<path d="M664.00 459.50 C665.83 459.75 671.50 460.00 675.00 461.00 C678.50 462.00 681.33 464.58 685.00 465.50 C688.67 466.42 693.50 466.67 697.00 466.50 C700.50 466.33 704.50 464.83 706.00 464.50" fill="none" stroke="#2b4541" stroke-width="0.9" />
<path d="M664.00 461.00 C666.33 461.33 673.67 461.97 678.00 463.00 C682.33 464.03 685.33 466.70 690.00 467.20 C694.67 467.70 703.33 466.20 706.00 466.00" fill="none" stroke="#2b4541" stroke-width="0.7" />
<line x1="537.5" y1="381" x2="537.5" y2="690" stroke="#54796e" stroke-width="1"/>
<line x1="605.5" y1="381" x2="605.5" y2="486" stroke="#54796e" stroke-width="1"/>
<line x1="583.5" y1="403.8" x2="583.5" y2="486" stroke="#54796e" stroke-width="1"/>
<line x1="575.5" y1="425.5" x2="575.5" y2="486" stroke="#54796e" stroke-width="1"/>
<line x1="555.5" y1="447" x2="555.5" y2="486" stroke="#54796e" stroke-width="1"/>
<line x1="771.5" y1="392" x2="771.5" y2="690" stroke="#54796e" stroke-width="1"/>
<line x1="715.5" y1="398.8" x2="715.5" y2="617" stroke="#54796e" stroke-width="1"/>
<line x1="724.5" y1="425.5" x2="724.5" y2="481" stroke="#54796e" stroke-width="1"/>
<line x1="737.5" y1="456.3" x2="737.5" y2="640" stroke="#54796e" stroke-width="1"/>
<line x1="759.5" y1="485" x2="759.5" y2="663" stroke="#54796e" stroke-width="1"/>
<line x1="537" y1="388.5" x2="605.3" y2="388.5" stroke="#54796e" stroke-width="1"/>
<path d="M537.00 388.50L545.50 385.90L545.50 391.10Z" fill="#1a7f5e"/>
<path d="M605.30 388.50L596.80 391.10L596.80 385.90Z" fill="#1a7f5e"/>
<text transform="translate(568,383.5) rotate(0) scale(0.86,1)" text-anchor="middle" font-size="16" fill="#1c1c1c" stroke="#1c1c1c" stroke-width="0.25">85</text>
<line x1="537" y1="411.5" x2="583.3" y2="411.5" stroke="#54796e" stroke-width="1"/>
<path d="M537.00 411.50L545.50 408.90L545.50 414.10Z" fill="#1a7f5e"/>
<path d="M583.30 411.50L574.80 414.10L574.80 408.90Z" fill="#1a7f5e"/>
<line x1="537" y1="431.5" x2="575.5" y2="431.5" stroke="#54796e" stroke-width="1"/>
<path d="M537.00 431.50L545.50 428.90L545.50 434.10Z" fill="#1a7f5e"/>
<path d="M575.50 431.50L567.00 434.10L567.00 428.90Z" fill="#1a7f5e"/>
<text transform="translate(557,427) rotate(0) scale(0.86,1)" text-anchor="middle" font-size="16" fill="#1c1c1c" stroke="#1c1c1c" stroke-width="0.25">47</text>
<line x1="497.5" y1="453.5" x2="599.5" y2="453.5" stroke="#54796e" stroke-width="1"/>
<path d="M537.00 453.30L528.50 455.90L528.50 450.70Z" fill="#1a7f5e"/>
<path d="M555.80 453.30L564.30 450.70L564.30 455.90Z" fill="#1a7f5e"/>
<text transform="translate(508.5,449.5) rotate(0) scale(0.86,1)" text-anchor="middle" font-size="16" fill="#1c1c1c" stroke="#1c1c1c" stroke-width="0.25">22.5</text>
<line x1="715.3" y1="406.5" x2="771.2" y2="406.5" stroke="#54796e" stroke-width="1"/>
<path d="M715.30 406.50L723.80 403.90L723.80 409.10Z" fill="#1a7f5e"/>
<path d="M771.20 406.50L762.70 409.10L762.70 403.90Z" fill="#1a7f5e"/>
<text transform="translate(742.5,402) rotate(0) scale(0.86,1)" text-anchor="middle" font-size="16" fill="#1c1c1c" stroke="#1c1c1c" stroke-width="0.25">70</text>
<line x1="724.3" y1="431.5" x2="771.2" y2="431.5" stroke="#54796e" stroke-width="1"/>
<path d="M724.30 431.50L732.80 428.90L732.80 434.10Z" fill="#1a7f5e"/>
<path d="M771.20 431.50L762.70 434.10L762.70 428.90Z" fill="#1a7f5e"/>
<text transform="translate(747.5,427) rotate(0) scale(0.86,1)" text-anchor="middle" font-size="16" fill="#1c1c1c" stroke="#1c1c1c" stroke-width="0.25">60</text>
<line x1="737.5" y1="462.5" x2="771.2" y2="462.5" stroke="#54796e" stroke-width="1"/>
<path d="M737.50 462.50L746.00 459.90L746.00 465.10Z" fill="#1a7f5e"/>
<path d="M771.20 462.50L762.70 465.10L762.70 459.90Z" fill="#1a7f5e"/>
<text transform="translate(753,458.8) rotate(0) scale(0.86,1)" text-anchor="middle" font-size="16" fill="#1c1c1c" stroke="#1c1c1c" stroke-width="0.25">42</text>
<line x1="537" y1="606.5" x2="715.3" y2="606.5" stroke="#54796e" stroke-width="1"/>
<path d="M537.00 606.50L545.50 603.90L545.50 609.10Z" fill="#1a7f5e"/>
<path d="M715.30 606.50L706.80 609.10L706.80 603.90Z" fill="#1a7f5e"/>
<text transform="translate(649,604) rotate(0) scale(0.86,1)" text-anchor="middle" font-size="16" fill="#1c1c1c" stroke="#1c1c1c" stroke-width="0.25">220.5</text>
<line x1="537" y1="631.5" x2="737.5" y2="631.5" stroke="#54796e" stroke-width="1"/>
<path d="M537.00 631.50L545.50 628.90L545.50 634.10Z" fill="#1a7f5e"/>
<path d="M737.50 631.50L729.00 634.10L729.00 628.90Z" fill="#1a7f5e"/>
<text transform="translate(643,627.5) rotate(0) scale(0.86,1)" text-anchor="middle" font-size="16" fill="#1c1c1c" stroke="#1c1c1c" stroke-width="0.25">247</text>
<line x1="537" y1="655.5" x2="759.3" y2="655.5" stroke="#54796e" stroke-width="1"/>
<path d="M537.00 655.50L545.50 652.90L545.50 658.10Z" fill="#1a7f5e"/>
<path d="M759.30 655.50L750.80 658.10L750.80 652.90Z" fill="#1a7f5e"/>
<text transform="translate(643,651.5) rotate(0) scale(0.86,1)" text-anchor="middle" font-size="16" fill="#1c1c1c" stroke="#1c1c1c" stroke-width="0.25">274</text>
<line x1="537" y1="680.5" x2="771.2" y2="680.5" stroke="#54796e" stroke-width="1"/>
<path d="M537.00 680.50L545.50 677.90L545.50 683.10Z" fill="#1a7f5e"/>
<path d="M771.20 680.50L762.70 683.10L762.70 677.90Z" fill="#1a7f5e"/>
<text transform="translate(643,676) rotate(0) scale(0.86,1)" text-anchor="middle" font-size="16" fill="#1c1c1c" stroke="#1c1c1c" stroke-width="0.25">290</text>
</svg>
</body></html>
